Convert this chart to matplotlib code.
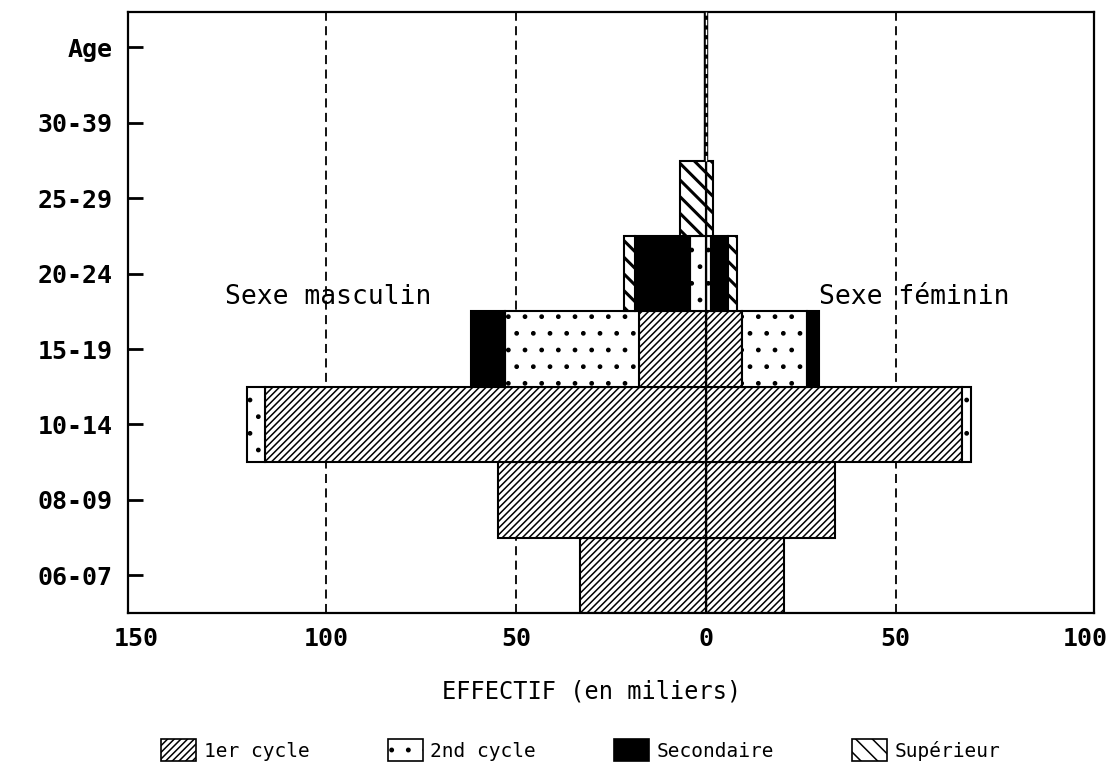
import numpy as np
import matplotlib.pyplot as plt
from matplotlib.patches import Patch

ages = ["06-07", "08-09", "10-14", "15-19", "20-24", "25-29", "30-39"]
y_labels = ages + ["Age"]

# effectifs en milliers, sexe masculin (vers la gauche)
masc_1er = [33.3, 54.8, 116.3, 17.6, 0.0, 0.0, 0.0]
masc_2nd = [0.0, 0.0, 4.7, 35.3, 4.1, 0.0, 0.0]
masc_sec = [0.0, 0.0, 0.0, 9.0, 14.5, 0.0, 0.0]
masc_sup = [0.0, 0.0, 0.0, 0.0, 3.1, 6.8, 0.0]

# sexe feminin (vers la droite)
fem_1er = [20.7, 34.1, 67.5, 9.5, 0.0, 0.0, 0.0]
fem_2nd = [0.0, 0.0, 2.4, 17.1, 1.3, 0.0, 0.0]
fem_sec = [0.0, 0.0, 0.0, 3.1, 4.4, 0.0, 0.0]
fem_sup = [0.0, 0.0, 0.0, 0.0, 2.5, 1.8, 0.0]

levels = ["1er cycle", "2nd cycle", "Secondaire", "Supérieur"]
styles = {
    "1er cycle": dict(facecolor="white", hatch="/////", hlw=1.1),
    "2nd cycle": dict(facecolor="white", hatch=".", hlw=1.0),
    "Secondaire": dict(facecolor="black", hatch=None, hlw=1.0),
    "Supérieur": dict(facecolor="white", hatch="\\\\", hlw=2.2),
}

plt.rcParams["hatch.color"] = "black"

fig = plt.figure(figsize=(11.19, 7.69), dpi=100)
ax = fig.add_axes([0.1144, 0.2029, 0.8633, 0.7815])

y = np.arange(len(ages))


def draw_side(series, sign):
    left = np.zeros(len(ages))
    for name, vals in zip(levels, series):
        vals = np.array(vals)
        keep = vals > 0
        st = styles[name]
        plt.rcParams["hatch.linewidth"] = st["hlw"]
        bars = ax.barh(y[keep], sign * vals[keep], left=sign * left[keep], height=1.0,
                       facecolor=st["facecolor"], hatch=st["hatch"],
                       edgecolor="black", linewidth=1.5, zorder=2)
        for b in bars:
            if hasattr(b, "set_hatch_linewidth"):
                b.set_hatch_linewidth(st["hlw"])
        left = left + vals


draw_side([masc_1er, masc_2nd, masc_sec, masc_sup], -1)
draw_side([fem_1er, fem_2nd, fem_sec, fem_sup], 1)

for xv in [-100, -50, 50]:
    ax.axvline(xv, color="black", linestyle=(0, (5, 3)), linewidth=1.3, zorder=1)
ax.axvline(0, color="black", linewidth=1.0, zorder=3)
# double trait au-dessus des barres
ax.plot([0, 0], [5.5, 7.47], color="black", linewidth=3.2, zorder=3, solid_capstyle="butt")
ax.plot([0, 0], [5.5, 7.47], color="white", linewidth=1.0, linestyle=(0, (4, 3)), zorder=4)

ax.set_xlim(-152.3, 102.3)
ax.set_ylim(-0.5, 7.47)

ax.set_xticks([-150, -100, -50, 0, 50, 100])
ax.set_xticklabels(["150", "100", "50", "0", "50", "100"])
ax.set_yticks(np.arange(len(y_labels)))
ax.set_yticklabels(y_labels)

for lab in ax.get_xticklabels() + ax.get_yticklabels():
    lab.set_fontfamily("DejaVu Sans Mono")
    lab.set_fontweight("bold")
    lab.set_fontsize(18)

ax.tick_params(axis="y", direction="in", length=11, width=2, pad=11)
ax.tick_params(axis="x", length=0, pad=10)
for sp in ax.spines.values():
    sp.set_linewidth(1.6)

ax.text(-99.5, 3.69, "Sexe masculin", ha="center", va="center",
        family="DejaVu Sans Mono", fontsize=19, zorder=5)
ax.text(55, 3.69, "Sexe féminin", ha="center", va="center",
        family="DejaVu Sans Mono", fontsize=19, zorder=5)

fig.text(592 / 1119, 1 - 692 / 769, "EFFECTIF (en miliers)", ha="center",
         va="center", family="DejaVu Sans Mono", fontsize=17)

plt.rcParams["hatch.linewidth"] = 1.1
handles = [Patch(facecolor=styles[n]["facecolor"], hatch=styles[n]["hatch"],
                 edgecolor="black", linewidth=1.2, label=n) for n in levels]
fig.legend(handles=handles, loc="center", bbox_to_anchor=(581 / 1119, 1 - 750 / 769),
           ncol=4, frameon=False, prop=dict(family="DejaVu Sans Mono", size=14),
           handlelength=1.8, handleheight=1.3, handletextpad=0.4, columnspacing=4.0)

fig.savefig("out.png", dpi=100)
